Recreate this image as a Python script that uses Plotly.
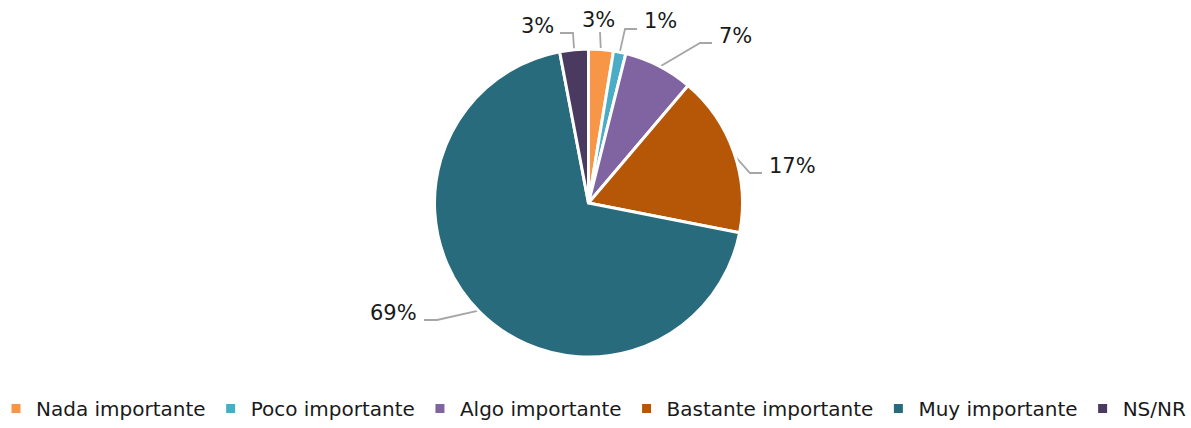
import math
import plotly.graph_objects as go

# ---- data ----
categories = ["Nada importante", "Poco importante", "Algo importante",
              "Bastante importante", "Muy importante", "NS/NR"]
values = [2.6, 1.3, 7.3, 16.9, 68.9, 3.0]
colors = ["#F79646", "#4BACC6", "#8064A2", "#B65708", "#276B7C", "#4A3A60"]

# ---- layout (pixels) ----
W, H = 1191, 428
MB = 6                      # bottom margin reserved for the legend
PH = H - MB                 # plot-area height
CX, CY, R = 588.5, 203, 154
# per-slice label layout: elbow point, end of horizontal segment, label centre
label_layout = [
    dict(elbow=(600, 32), end=None, text=(598, 20)),
    dict(elbow=(625, 29), end=(637, 29), text=(660, 21)),
    dict(elbow=(700, 43), end=(712, 43), text=(735, 36)),
    dict(elbow=(750, 173), end=(762, 173), text=(792, 166)),
    dict(elbow=(437, 320), end=(424, 320), text=(393, 313)),
    dict(elbow=(573, 33), end=(560, 33), text=(537, 26)),
]

fig = go.Figure()
fig.add_trace(go.Pie(
    labels=categories, values=values, sort=False, direction="clockwise",
    rotation=0, marker=dict(colors=colors, line=dict(color="white", width=3)),
    textinfo="none", hoverinfo="label+percent", showlegend=False,
    domain=dict(x=[(CX - R) / W, (CX + R) / W],
                y=[1 - (CY + R) / PH, 1 - (CY - R) / PH]),
))

total = sum(values)
cum = 0.0
annotations = []
for v, lay in zip(values, label_layout):
    mid = (cum + v / 2) / total * 2 * math.pi
    cum += v
    ax = CX + (R - 2) * math.sin(mid)
    ay = CY - (R - 2) * math.cos(mid)
    xs = [ax, lay["elbow"][0]]
    ys = [ay, lay["elbow"][1]]
    if lay["end"] is not None:
        xs.append(lay["end"][0])
        ys.append(lay["end"][1])
    fig.add_trace(go.Scatter(x=xs, y=ys, mode="lines",
                             line=dict(color="#A6A6A6", width=1.8),
                             hoverinfo="skip", showlegend=False))
    pct = int(v / total * 100 + 0.5)
    annotations.append(dict(x=lay["text"][0], y=lay["text"][1], xref="x", yref="y",
                            text=f"{pct}%", showarrow=False,
                            font=dict(family="DejaVu Sans", size=21, color="#1A1A1A"),
                            xanchor="center", yanchor="middle"))

for c, col in zip(categories, colors):
    fig.add_trace(go.Scatter(x=[None], y=[None], mode="markers", name=c,
                             marker=dict(symbol="square", size=9, color=col)))

fig.update_layout(
    width=W, height=H, autosize=False,
    margin=dict(l=0, r=0, t=0, b=MB),
    paper_bgcolor="white", plot_bgcolor="rgba(0,0,0,0)",
    xaxis=dict(range=[0, W], visible=False, domain=[0, 1], fixedrange=True),
    yaxis=dict(range=[PH, 0], visible=False, domain=[0, 1], fixedrange=True),
    showlegend=True,
    legend=dict(orientation="h", x=583 / W, xanchor="center", y=-MB / PH,
                yanchor="bottom", font=dict(family="DejaVu Sans", size=20, color="#1A1A1A"),
                itemclick=False, itemdoubleclick=False, bgcolor="rgba(0,0,0,0)"),
    annotations=annotations,
)

fig.write_html("out.html", config={"displayModeBar": False},
               post_script="document.body.style.margin='0px';")
